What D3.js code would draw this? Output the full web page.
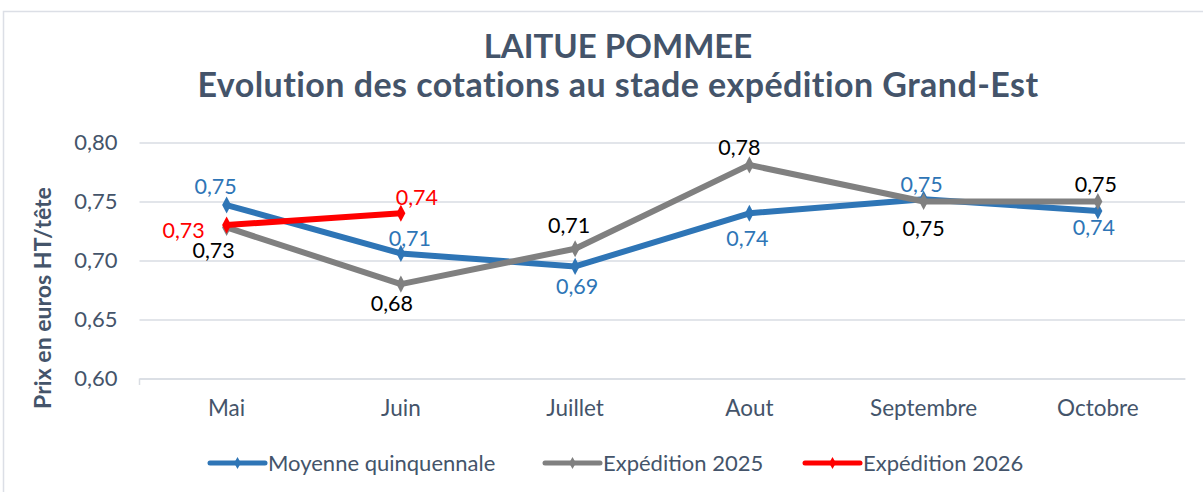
<!DOCTYPE html>
<html><head><meta charset="utf-8">
<script src="https://cdn.jsdelivr.net/npm/d3@7"></script>
<style>html,body{margin:0;padding:0;background:#fff;}svg{display:block;}</style>
</head><body>
<script>
const categories = ["Mai","Juin","Juillet","Aout","Septembre","Octobre"];
const moyenne = [0.747,0.706,0.695,0.740,0.752,0.742];
const exp2025 = [0.728,0.680,0.710,0.781,0.750,0.750];
const exp2026 = [0.730,0.740];
const yTicks = [0.60,0.65,0.70,0.75,0.80];
const seriesNames = ["Moyenne quinquennale","Expédition 2025","Expédition 2026"];
const title1 = "LAITUE POMMEE";
const title2 = "Evolution des cotations au stade expédition Grand-Est";
const yTitle = "Prix en euros HT/tête";

// label placement (style only): [dx, dy] relative to the point
const moyenneLabelOff = [[-11,-19],[9,-15],[2,20],[-2,25],[-2,-15],[-4,17]];
const exp2025LabelOff = [[-13,23],[-9,19],[-6,-23],[-10,-17],[0,27],[-2,-17]];
const exp2026LabelOff = [[-43,5],[16,-16]];

const W=1203,H=492;
const textCol="#44546a";
const svg=d3.select("body").append("svg").attr("width",W).attr("height",H);
svg.append("rect").attr("x",3.5).attr("y",11.5).attr("width",1210).attr("height",500)
  .attr("fill","#fff").attr("stroke","#dcdfe6").attr("stroke-width",1.5);

const x=d3.scaleBand().domain(categories).range([139.5,1185]);
const y=d3.scaleLinear().domain([0.60,0.80]).range([378.5,142.5]);
const cx=c=>x(c)+x.bandwidth()/2;
const fmt=v=>d3.format(".2f")(v).replace(".",",");

svg.append("text").attr("x",618).attr("y",58).attr("text-anchor","middle")
  .attr("font-family","Lato").attr("font-weight","bold").attr("font-size",33)
  .attr("fill",textCol).text(title1);
const t2=svg.append("text").attr("x",618).attr("y",97).attr("text-anchor","middle")
  .attr("font-family","Lato").attr("font-weight","bold").attr("font-size",34)
  .attr("fill",textCol).text(title2);
{
  const len=t2.node().getComputedTextLength();
  t2.attr("letter-spacing",((843-len)/title2.length).toFixed(2));
}

// grid
const gy=svg.append("g").attr("transform","translate(139.5,0)")
  .call(d3.axisLeft(y).tickValues(yTicks).tickSize(-(1185-139.5)).tickFormat(fmt));
gy.select(".domain").remove();
gy.selectAll(".tick line").attr("stroke","#d9dde3").attr("stroke-width",1.5);
gy.selectAll(".tick text").attr("x",-22).attr("font-family","Lato").attr("font-size",22).attr("fill",textCol);

// x axis
const gx=svg.append("g").attr("transform","translate(0,378.5)")
  .call(d3.axisBottom(x).tickSize(0).tickPadding(22));
gx.select(".domain").attr("stroke","#d9dde3").attr("stroke-width",1.5);
gx.selectAll(".tick text").attr("font-family","Lato").attr("font-size",22.5).attr("fill",textCol);
svg.append("line").attr("x1",139.5).attr("x2",139.5).attr("y1",378.5).attr("y2",385)
  .attr("stroke","#d9dde3").attr("stroke-width",1.5);

const yt=svg.append("text").attr("transform","translate(51,298) rotate(-90)").attr("text-anchor","middle")
  .attr("font-family","Lato").attr("font-weight","bold").attr("font-size",21)
  .attr("fill",textCol).text(yTitle);
{
  const len=yt.node().getComputedTextLength();
  yt.attr("font-size",(21*222/len).toFixed(2));
}

const series=[
  {name:seriesNames[0],vals:moyenne,off:moyenneLabelOff,color:"#2e75b6",lab:"#2e75b6"},
  {name:seriesNames[1],vals:exp2025,off:exp2025LabelOff,color:"#808080",lab:"#000"},
  {name:seriesNames[2],vals:exp2026,off:exp2026LabelOff,color:"#ff0000",lab:"#ff0000"}
];
const line=d3.line().x((d,i)=>cx(categories[i])).y(d=>y(d));
const diamond=d3.symbol().type(d3.symbolDiamond).size(70);

series.forEach(s=>{
  svg.append("path").datum(s.vals).attr("d",line).attr("fill","none")
    .attr("stroke",s.color).attr("stroke-width",6).attr("stroke-linejoin","round");
  svg.selectAll(null).data(s.vals).enter().append("path")
    .attr("d",diamond).attr("fill",s.color)
    .attr("transform",(d,i)=>`translate(${cx(categories[i])},${y(d)}) scale(1,1.1)`);
});
series.forEach(s=>{
  svg.selectAll(null).data(s.vals).enter().append("text")
    .attr("x",(d,i)=>cx(categories[i])+s.off[i][0])
    .attr("y",(d,i)=>y(d)+s.off[i][1])
    .attr("dy","0.35em").attr("text-anchor","middle")
    .attr("font-family","Lato").attr("font-size",21.5).attr("fill",s.lab).text(d=>fmt(d));
});

// legend
const legX=[210,545,805];
series.forEach((s,i)=>{
  const g=svg.append("g").attr("transform",`translate(${legX[i]},463)`);
  g.append("line").attr("x1",0).attr("x2",55).attr("stroke",s.color).attr("stroke-width",5).attr("stroke-linecap","round");
  g.append("path").attr("d",d3.symbol().type(d3.symbolDiamond).size(40)).attr("fill",s.color).attr("transform","translate(27.5,0)");
  g.append("text").attr("x",58).attr("dy","0.35em").attr("font-family","Lato").attr("font-size",22)
    .attr("fill",textCol).text(s.name);
});
</script>
</body></html>
